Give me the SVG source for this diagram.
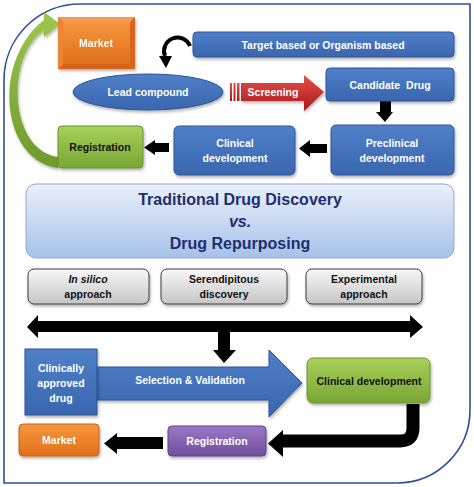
<svg xmlns="http://www.w3.org/2000/svg" width="474" height="487" viewBox="0 0 474 487">
<defs>
<linearGradient id="gBlue" x1="0" y1="0" x2="0" y2="1"><stop offset="0" stop-color="#4F80C8"/><stop offset="1" stop-color="#3966AE"/></linearGradient>
<linearGradient id="gRed" x1="0" y1="0" x2="0" y2="1"><stop offset="0" stop-color="#E8504A"/><stop offset="1" stop-color="#A8181A"/></linearGradient>
<linearGradient id="gGreen" x1="0" y1="0" x2="0" y2="1"><stop offset="0" stop-color="#A9D05A"/><stop offset="1" stop-color="#78A634"/></linearGradient>
<linearGradient id="gGreenArrow" x1="0" y1="0" x2="0" y2="1"><stop offset="0" stop-color="#9CC84C"/><stop offset="1" stop-color="#6D9A2C"/></linearGradient>
<linearGradient id="gOrange" x1="0" y1="0" x2="0" y2="1"><stop offset="0" stop-color="#F5963E"/><stop offset="1" stop-color="#E0701C"/></linearGradient>
<linearGradient id="gPurple" x1="0" y1="0" x2="0" y2="1"><stop offset="0" stop-color="#9A7AC6"/><stop offset="1" stop-color="#6E4E9A"/></linearGradient>
<linearGradient id="gGray" x1="0" y1="0" x2="0" y2="1"><stop offset="0" stop-color="#F7F7F7"/><stop offset="1" stop-color="#C6C6C6"/></linearGradient>
<linearGradient id="gTitle" x1="0" y1="0" x2="0" y2="1"><stop offset="0" stop-color="#EAF0FA"/><stop offset="1" stop-color="#A6C1EA"/></linearGradient>
<filter id="sh" x="-10%" y="-10%" width="130%" height="140%"><feDropShadow dx="1" dy="2" stdDeviation="1.5" flood-color="#000" flood-opacity="0.3"/></filter>
</defs>
<style>
text{font-family:"Liberation Sans",Arial,sans-serif;font-weight:bold;font-size:10.5px;text-anchor:middle}
.w{fill:#FFFFFF}
.k{fill:#111111}
.blue{fill:url(#gBlue);stroke:#2F5597;stroke-width:1}
.gray{fill:url(#gGray);stroke:#3C3C3C;stroke-width:1}
.title{fill:#1F2E6E;font-size:16px}
.blk{fill:#000000}
</style>
<rect x="0" y="0" width="474" height="487" fill="#FFFFFF"/>
<path id="frame" d="M4,483 V80 A76,76 0 0 1 80,4 H470 V410 A73,73 0 0 1 397,483 Z" fill="#FFFFFF" stroke="#2F4F99" stroke-width="1.6"/>

<g id="connectors">
<path id="greenArrow" d="M58,168 C0,160 -8,60 44,20 L44,12 L60,24 L44,37 L44,30 C6,55 8,150 58,157 Z" fill="url(#gGreenArrow)" filter="url(#sh)"/>
<path d="M190,46 A13,13 0 0 0 165,56" fill="none" stroke="#000" stroke-width="4"/>
<polygon points="159,56 172,56 166,68" class="blk"/>
<g id="screening">
<polygon points="241,83 304,83 304,75 324,92 304,111 304,101 241,101" fill="url(#gRed)" filter="url(#sh)"/>
<rect x="230" y="83" width="2" height="18" fill="url(#gRed)"/>
<rect x="233.5" y="83" width="2" height="18" fill="url(#gRed)"/>
<rect x="237" y="83" width="2.5" height="18" fill="url(#gRed)"/>
<text x="273" y="96" class="w">Screening</text>
</g>
<polygon points="380,101 391,101 391,112 393,112 385,122 376,112 380,112" class="blk"/>
<polygon points="327,144 310,144 310,140 299,148.5 310,157 310,153 327,153" class="blk"/>
<polygon points="169,143 155,143 155,140 144,147.5 155,155 155,152 169,152" class="blk"/>
<polygon points="27,327 38,315 38,321 410,321 410,315 423,327 410,338 410,332 38,332 38,338" class="blk"/>
<polygon points="218,332 230,332 230,350 236,350 224,363 213,350 218,350" class="blk"/>
<path d="M413,404 V428 Q413,441 400,441 H282" fill="none" stroke="#000" stroke-width="13"/>
<polygon points="283,430 283,457 268,443.5" class="blk"/>
<polygon points="163,437 117,437 117,433 104,443.5 117,454 117,449 163,449" class="blk"/>
</g>

<g id="market-top" filter="url(#sh)">
<rect x="58" y="17" width="77" height="52" fill="#D8651A"/>
<polygon points="58,17 135,17 130,22 63,22" fill="#F59A50"/>
<polygon points="58,17 63,22 63,64 58,69" fill="#EE8536"/>
<rect x="63" y="22" width="67" height="42" fill="url(#gOrange)"/>
<text x="96" y="47" class="w">Market</text>
</g>
<g id="target">
<rect x="193" y="32" width="261" height="25" rx="4" class="blue" filter="url(#sh)"/>
<text x="323" y="48.5" class="w">Target based or Organism based</text>
</g>
<g id="lead">
<ellipse cx="148" cy="92" rx="75" ry="18" fill="url(#gBlue)" stroke="#2F5597" filter="url(#sh)"/>
<text x="148" y="96" class="w">Lead compound</text>
</g>
<g id="candidate">
<rect x="326" y="68" width="128" height="33" rx="4" class="blue" filter="url(#sh)"/>
<text x="390" y="89" class="w" style="white-space:pre">Candidate  Drug</text>
</g>
<g id="preclinical">
<rect x="331" y="125" width="123" height="50" rx="5" class="blue" filter="url(#sh)"/>
<text x="392" y="147" class="w">Preclinical</text>
<text x="392" y="161.5" class="w">development</text>
</g>
<g id="clinical-top">
<rect x="174" y="126" width="121" height="49" rx="5" class="blue" filter="url(#sh)"/>
<text x="235" y="147" class="w">Clinical</text>
<text x="235" y="162" class="w">development</text>
</g>
<g id="registration-top">
<rect x="58" y="126" width="85" height="42" rx="4" fill="url(#gGreen)" stroke="#6B9430" filter="url(#sh)"/>
<text x="100" y="151" class="k">Registration</text>
</g>

<g id="title">
<rect x="26" y="184" width="428" height="74" rx="10" fill="url(#gTitle)" stroke="#8FAAD8" stroke-width="1"/>
<text x="240" y="205" class="title">Traditional Drug Discovery</text>
<text x="240" y="227" class="title" font-style="italic">vs.</text>
<text x="240" y="249" class="title">Drug Repurposing</text>
</g>
<g id="insilico">
<rect x="28" y="269" width="121" height="35" rx="6" class="gray" filter="url(#sh)"/>
<text x="88" y="283" class="k" font-style="italic">In silico</text>
<text x="88" y="298" class="k">approach</text>
</g>
<g id="serendipitous">
<rect x="161" y="269" width="126" height="35" rx="6" class="gray" filter="url(#sh)"/>
<text x="224" y="283" class="k">Serendipitous</text>
<text x="224" y="298" class="k">discovery</text>
</g>
<g id="experimental">
<rect x="306" y="269" width="116" height="35" rx="6" class="gray" filter="url(#sh)"/>
<text x="364" y="283" class="k">Experimental</text>
<text x="364" y="298" class="k">approach</text>
</g>

<g id="selection">
<polygon points="97,367 269,367 269,350 302,383 269,417 269,400 97,400" fill="url(#gBlue)" stroke="#2F5597" filter="url(#sh)"/>
<text x="190" y="384" class="w">Selection &amp; Validation</text>
</g>
<g id="approved">
<rect x="25" y="349" width="72" height="66" class="blue" filter="url(#sh)"/>
<text x="61" y="372" class="w">Clinically</text>
<text x="61" y="387" class="w">approved</text>
<text x="61" y="402" class="w">drug</text>
</g>
<g id="clinical-bottom">
<rect x="307" y="358" width="123" height="45" rx="6" fill="url(#gGreen)" stroke="#6B9430" filter="url(#sh)"/>
<text x="369" y="385" class="k">Clinical development</text>
</g>
<g id="registration-bottom">
<rect x="168" y="426" width="98" height="30" rx="4" fill="url(#gPurple)" stroke="#5E4288" filter="url(#sh)"/>
<text x="217" y="445" class="w">Registration</text>
</g>
<g id="market-bottom">
<rect x="19" y="424" width="80" height="32" rx="4" fill="url(#gOrange)" stroke="#C8601A" filter="url(#sh)"/>
<text x="59" y="444" class="w">Market</text>
</g>
</svg>
